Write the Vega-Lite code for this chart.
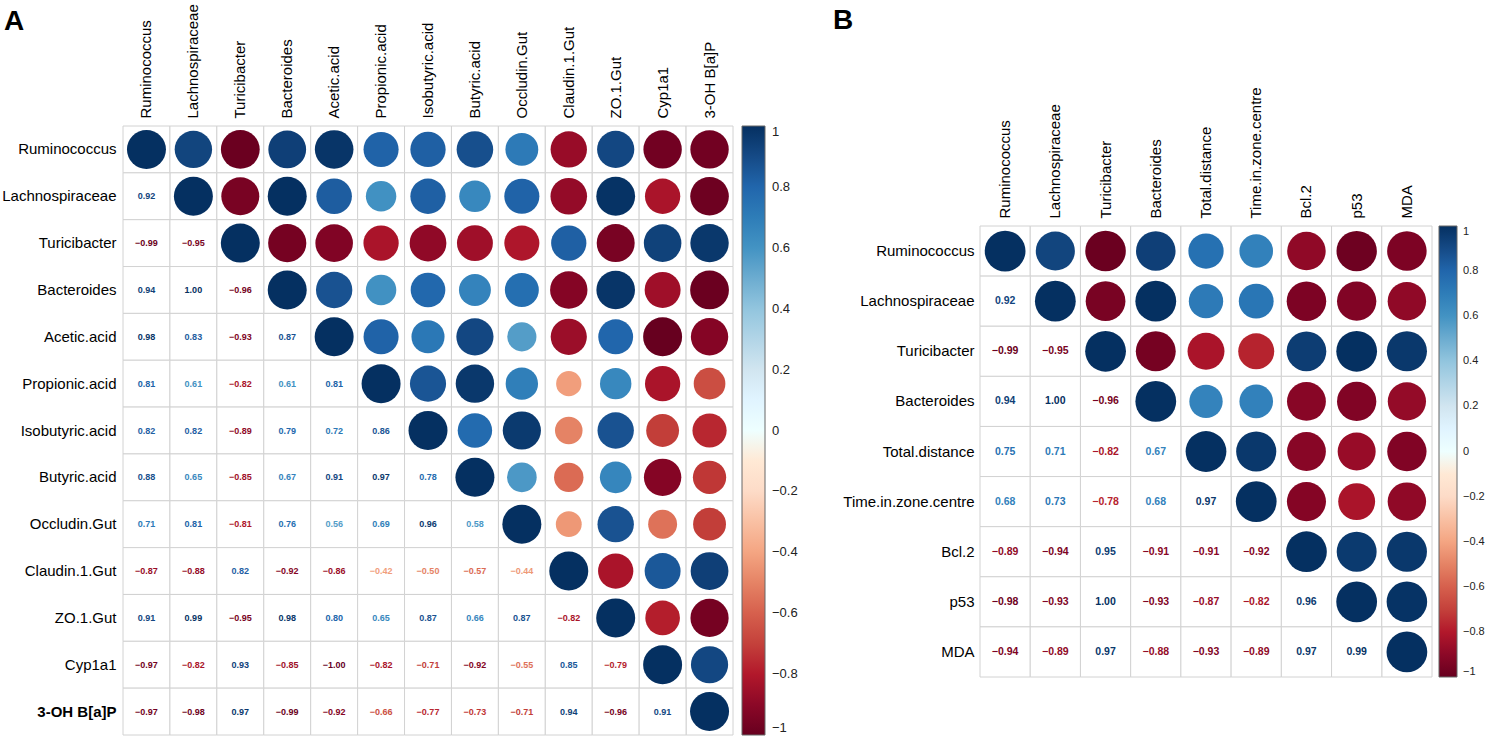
{
  "$schema": "https://vega.github.io/schema/vega-lite/v6.json",
  "padding": {"left": 1, "top": 3, "right": 0, "bottom": 0},
  "background": "white",
  "spacing": 35,
  "datasets": {
    "A_upper": [
      {"row":"Ruminococcus","col":"Ruminococcus","r":1},
      {"row":"Ruminococcus","col":"Lachnospiraceae","r":0.92},
      {"row":"Ruminococcus","col":"Turicibacter","r":-0.99},
      {"row":"Ruminococcus","col":"Bacteroides","r":0.94},
      {"row":"Ruminococcus","col":"Acetic.acid","r":0.98},
      {"row":"Ruminococcus","col":"Propionic.acid","r":0.81},
      {"row":"Ruminococcus","col":"Isobutyric.acid","r":0.82},
      {"row":"Ruminococcus","col":"Butyric.acid","r":0.88},
      {"row":"Ruminococcus","col":"Occludin.Gut","r":0.71},
      {"row":"Ruminococcus","col":"Claudin.1.Gut","r":-0.87},
      {"row":"Ruminococcus","col":"ZO.1.Gut","r":0.91},
      {"row":"Ruminococcus","col":"Cyp1a1","r":-0.97},
      {"row":"Ruminococcus","col":"3-OH B[a]P","r":-0.97},
      {"row":"Lachnospiraceae","col":"Lachnospiraceae","r":1},
      {"row":"Lachnospiraceae","col":"Turicibacter","r":-0.95},
      {"row":"Lachnospiraceae","col":"Bacteroides","r":1.0},
      {"row":"Lachnospiraceae","col":"Acetic.acid","r":0.83},
      {"row":"Lachnospiraceae","col":"Propionic.acid","r":0.61},
      {"row":"Lachnospiraceae","col":"Isobutyric.acid","r":0.82},
      {"row":"Lachnospiraceae","col":"Butyric.acid","r":0.65},
      {"row":"Lachnospiraceae","col":"Occludin.Gut","r":0.81},
      {"row":"Lachnospiraceae","col":"Claudin.1.Gut","r":-0.88},
      {"row":"Lachnospiraceae","col":"ZO.1.Gut","r":0.99},
      {"row":"Lachnospiraceae","col":"Cyp1a1","r":-0.82},
      {"row":"Lachnospiraceae","col":"3-OH B[a]P","r":-0.98},
      {"row":"Turicibacter","col":"Turicibacter","r":1},
      {"row":"Turicibacter","col":"Bacteroides","r":-0.96},
      {"row":"Turicibacter","col":"Acetic.acid","r":-0.93},
      {"row":"Turicibacter","col":"Propionic.acid","r":-0.82},
      {"row":"Turicibacter","col":"Isobutyric.acid","r":-0.89},
      {"row":"Turicibacter","col":"Butyric.acid","r":-0.85},
      {"row":"Turicibacter","col":"Occludin.Gut","r":-0.81},
      {"row":"Turicibacter","col":"Claudin.1.Gut","r":0.82},
      {"row":"Turicibacter","col":"ZO.1.Gut","r":-0.95},
      {"row":"Turicibacter","col":"Cyp1a1","r":0.93},
      {"row":"Turicibacter","col":"3-OH B[a]P","r":0.97},
      {"row":"Bacteroides","col":"Bacteroides","r":1},
      {"row":"Bacteroides","col":"Acetic.acid","r":0.87},
      {"row":"Bacteroides","col":"Propionic.acid","r":0.61},
      {"row":"Bacteroides","col":"Isobutyric.acid","r":0.79},
      {"row":"Bacteroides","col":"Butyric.acid","r":0.67},
      {"row":"Bacteroides","col":"Occludin.Gut","r":0.76},
      {"row":"Bacteroides","col":"Claudin.1.Gut","r":-0.92},
      {"row":"Bacteroides","col":"ZO.1.Gut","r":0.98},
      {"row":"Bacteroides","col":"Cyp1a1","r":-0.85},
      {"row":"Bacteroides","col":"3-OH B[a]P","r":-0.99},
      {"row":"Acetic.acid","col":"Acetic.acid","r":1},
      {"row":"Acetic.acid","col":"Propionic.acid","r":0.81},
      {"row":"Acetic.acid","col":"Isobutyric.acid","r":0.72},
      {"row":"Acetic.acid","col":"Butyric.acid","r":0.91},
      {"row":"Acetic.acid","col":"Occludin.Gut","r":0.56},
      {"row":"Acetic.acid","col":"Claudin.1.Gut","r":-0.86},
      {"row":"Acetic.acid","col":"ZO.1.Gut","r":0.8},
      {"row":"Acetic.acid","col":"Cyp1a1","r":-1.0},
      {"row":"Acetic.acid","col":"3-OH B[a]P","r":-0.92},
      {"row":"Propionic.acid","col":"Propionic.acid","r":1},
      {"row":"Propionic.acid","col":"Isobutyric.acid","r":0.86},
      {"row":"Propionic.acid","col":"Butyric.acid","r":0.97},
      {"row":"Propionic.acid","col":"Occludin.Gut","r":0.69},
      {"row":"Propionic.acid","col":"Claudin.1.Gut","r":-0.42},
      {"row":"Propionic.acid","col":"ZO.1.Gut","r":0.65},
      {"row":"Propionic.acid","col":"Cyp1a1","r":-0.82},
      {"row":"Propionic.acid","col":"3-OH B[a]P","r":-0.66},
      {"row":"Isobutyric.acid","col":"Isobutyric.acid","r":1},
      {"row":"Isobutyric.acid","col":"Butyric.acid","r":0.78},
      {"row":"Isobutyric.acid","col":"Occludin.Gut","r":0.96},
      {"row":"Isobutyric.acid","col":"Claudin.1.Gut","r":-0.5},
      {"row":"Isobutyric.acid","col":"ZO.1.Gut","r":0.87},
      {"row":"Isobutyric.acid","col":"Cyp1a1","r":-0.71},
      {"row":"Isobutyric.acid","col":"3-OH B[a]P","r":-0.77},
      {"row":"Butyric.acid","col":"Butyric.acid","r":1},
      {"row":"Butyric.acid","col":"Occludin.Gut","r":0.58},
      {"row":"Butyric.acid","col":"Claudin.1.Gut","r":-0.57},
      {"row":"Butyric.acid","col":"ZO.1.Gut","r":0.66},
      {"row":"Butyric.acid","col":"Cyp1a1","r":-0.92},
      {"row":"Butyric.acid","col":"3-OH B[a]P","r":-0.73},
      {"row":"Occludin.Gut","col":"Occludin.Gut","r":1},
      {"row":"Occludin.Gut","col":"Claudin.1.Gut","r":-0.44},
      {"row":"Occludin.Gut","col":"ZO.1.Gut","r":0.87},
      {"row":"Occludin.Gut","col":"Cyp1a1","r":-0.55},
      {"row":"Occludin.Gut","col":"3-OH B[a]P","r":-0.71},
      {"row":"Claudin.1.Gut","col":"Claudin.1.Gut","r":1},
      {"row":"Claudin.1.Gut","col":"ZO.1.Gut","r":-0.82},
      {"row":"Claudin.1.Gut","col":"Cyp1a1","r":0.85},
      {"row":"Claudin.1.Gut","col":"3-OH B[a]P","r":0.94},
      {"row":"ZO.1.Gut","col":"ZO.1.Gut","r":1},
      {"row":"ZO.1.Gut","col":"Cyp1a1","r":-0.79},
      {"row":"ZO.1.Gut","col":"3-OH B[a]P","r":-0.96},
      {"row":"Cyp1a1","col":"Cyp1a1","r":1},
      {"row":"Cyp1a1","col":"3-OH B[a]P","r":0.91},
      {"row":"3-OH B[a]P","col":"3-OH B[a]P","r":1}
    ],
    "A_lower": [
      {"row":"Lachnospiraceae","col":"Ruminococcus","r":0.92},
      {"row":"Turicibacter","col":"Ruminococcus","r":-0.99},
      {"row":"Turicibacter","col":"Lachnospiraceae","r":-0.95},
      {"row":"Bacteroides","col":"Ruminococcus","r":0.94},
      {"row":"Bacteroides","col":"Lachnospiraceae","r":1.0},
      {"row":"Bacteroides","col":"Turicibacter","r":-0.96},
      {"row":"Acetic.acid","col":"Ruminococcus","r":0.98},
      {"row":"Acetic.acid","col":"Lachnospiraceae","r":0.83},
      {"row":"Acetic.acid","col":"Turicibacter","r":-0.93},
      {"row":"Acetic.acid","col":"Bacteroides","r":0.87},
      {"row":"Propionic.acid","col":"Ruminococcus","r":0.81},
      {"row":"Propionic.acid","col":"Lachnospiraceae","r":0.61},
      {"row":"Propionic.acid","col":"Turicibacter","r":-0.82},
      {"row":"Propionic.acid","col":"Bacteroides","r":0.61},
      {"row":"Propionic.acid","col":"Acetic.acid","r":0.81},
      {"row":"Isobutyric.acid","col":"Ruminococcus","r":0.82},
      {"row":"Isobutyric.acid","col":"Lachnospiraceae","r":0.82},
      {"row":"Isobutyric.acid","col":"Turicibacter","r":-0.89},
      {"row":"Isobutyric.acid","col":"Bacteroides","r":0.79},
      {"row":"Isobutyric.acid","col":"Acetic.acid","r":0.72},
      {"row":"Isobutyric.acid","col":"Propionic.acid","r":0.86},
      {"row":"Butyric.acid","col":"Ruminococcus","r":0.88},
      {"row":"Butyric.acid","col":"Lachnospiraceae","r":0.65},
      {"row":"Butyric.acid","col":"Turicibacter","r":-0.85},
      {"row":"Butyric.acid","col":"Bacteroides","r":0.67},
      {"row":"Butyric.acid","col":"Acetic.acid","r":0.91},
      {"row":"Butyric.acid","col":"Propionic.acid","r":0.97},
      {"row":"Butyric.acid","col":"Isobutyric.acid","r":0.78},
      {"row":"Occludin.Gut","col":"Ruminococcus","r":0.71},
      {"row":"Occludin.Gut","col":"Lachnospiraceae","r":0.81},
      {"row":"Occludin.Gut","col":"Turicibacter","r":-0.81},
      {"row":"Occludin.Gut","col":"Bacteroides","r":0.76},
      {"row":"Occludin.Gut","col":"Acetic.acid","r":0.56},
      {"row":"Occludin.Gut","col":"Propionic.acid","r":0.69},
      {"row":"Occludin.Gut","col":"Isobutyric.acid","r":0.96},
      {"row":"Occludin.Gut","col":"Butyric.acid","r":0.58},
      {"row":"Claudin.1.Gut","col":"Ruminococcus","r":-0.87},
      {"row":"Claudin.1.Gut","col":"Lachnospiraceae","r":-0.88},
      {"row":"Claudin.1.Gut","col":"Turicibacter","r":0.82},
      {"row":"Claudin.1.Gut","col":"Bacteroides","r":-0.92},
      {"row":"Claudin.1.Gut","col":"Acetic.acid","r":-0.86},
      {"row":"Claudin.1.Gut","col":"Propionic.acid","r":-0.42},
      {"row":"Claudin.1.Gut","col":"Isobutyric.acid","r":-0.5},
      {"row":"Claudin.1.Gut","col":"Butyric.acid","r":-0.57},
      {"row":"Claudin.1.Gut","col":"Occludin.Gut","r":-0.44},
      {"row":"ZO.1.Gut","col":"Ruminococcus","r":0.91},
      {"row":"ZO.1.Gut","col":"Lachnospiraceae","r":0.99},
      {"row":"ZO.1.Gut","col":"Turicibacter","r":-0.95},
      {"row":"ZO.1.Gut","col":"Bacteroides","r":0.98},
      {"row":"ZO.1.Gut","col":"Acetic.acid","r":0.8},
      {"row":"ZO.1.Gut","col":"Propionic.acid","r":0.65},
      {"row":"ZO.1.Gut","col":"Isobutyric.acid","r":0.87},
      {"row":"ZO.1.Gut","col":"Butyric.acid","r":0.66},
      {"row":"ZO.1.Gut","col":"Occludin.Gut","r":0.87},
      {"row":"ZO.1.Gut","col":"Claudin.1.Gut","r":-0.82},
      {"row":"Cyp1a1","col":"Ruminococcus","r":-0.97},
      {"row":"Cyp1a1","col":"Lachnospiraceae","r":-0.82},
      {"row":"Cyp1a1","col":"Turicibacter","r":0.93},
      {"row":"Cyp1a1","col":"Bacteroides","r":-0.85},
      {"row":"Cyp1a1","col":"Acetic.acid","r":-1.0},
      {"row":"Cyp1a1","col":"Propionic.acid","r":-0.82},
      {"row":"Cyp1a1","col":"Isobutyric.acid","r":-0.71},
      {"row":"Cyp1a1","col":"Butyric.acid","r":-0.92},
      {"row":"Cyp1a1","col":"Occludin.Gut","r":-0.55},
      {"row":"Cyp1a1","col":"Claudin.1.Gut","r":0.85},
      {"row":"Cyp1a1","col":"ZO.1.Gut","r":-0.79},
      {"row":"3-OH B[a]P","col":"Ruminococcus","r":-0.97},
      {"row":"3-OH B[a]P","col":"Lachnospiraceae","r":-0.98},
      {"row":"3-OH B[a]P","col":"Turicibacter","r":0.97},
      {"row":"3-OH B[a]P","col":"Bacteroides","r":-0.99},
      {"row":"3-OH B[a]P","col":"Acetic.acid","r":-0.92},
      {"row":"3-OH B[a]P","col":"Propionic.acid","r":-0.66},
      {"row":"3-OH B[a]P","col":"Isobutyric.acid","r":-0.77},
      {"row":"3-OH B[a]P","col":"Butyric.acid","r":-0.73},
      {"row":"3-OH B[a]P","col":"Occludin.Gut","r":-0.71},
      {"row":"3-OH B[a]P","col":"Claudin.1.Gut","r":0.94},
      {"row":"3-OH B[a]P","col":"ZO.1.Gut","r":-0.96},
      {"row":"3-OH B[a]P","col":"Cyp1a1","r":0.91}
    ],
    "B_upper": [
      {"row":"Ruminococcus","col":"Ruminococcus","r":1},
      {"row":"Ruminococcus","col":"Lachnospiraceae","r":0.92},
      {"row":"Ruminococcus","col":"Turicibacter","r":-0.99},
      {"row":"Ruminococcus","col":"Bacteroides","r":0.94},
      {"row":"Ruminococcus","col":"Total.distance","r":0.75},
      {"row":"Ruminococcus","col":"Time.in.zone.centre","r":0.68},
      {"row":"Ruminococcus","col":"Bcl.2","r":-0.89},
      {"row":"Ruminococcus","col":"p53","r":-0.98},
      {"row":"Ruminococcus","col":"MDA","r":-0.94},
      {"row":"Lachnospiraceae","col":"Lachnospiraceae","r":1},
      {"row":"Lachnospiraceae","col":"Turicibacter","r":-0.95},
      {"row":"Lachnospiraceae","col":"Bacteroides","r":1.0},
      {"row":"Lachnospiraceae","col":"Total.distance","r":0.71},
      {"row":"Lachnospiraceae","col":"Time.in.zone.centre","r":0.73},
      {"row":"Lachnospiraceae","col":"Bcl.2","r":-0.94},
      {"row":"Lachnospiraceae","col":"p53","r":-0.93},
      {"row":"Lachnospiraceae","col":"MDA","r":-0.89},
      {"row":"Turicibacter","col":"Turicibacter","r":1},
      {"row":"Turicibacter","col":"Bacteroides","r":-0.96},
      {"row":"Turicibacter","col":"Total.distance","r":-0.82},
      {"row":"Turicibacter","col":"Time.in.zone.centre","r":-0.78},
      {"row":"Turicibacter","col":"Bcl.2","r":0.95},
      {"row":"Turicibacter","col":"p53","r":1.0},
      {"row":"Turicibacter","col":"MDA","r":0.97},
      {"row":"Bacteroides","col":"Bacteroides","r":1},
      {"row":"Bacteroides","col":"Total.distance","r":0.67},
      {"row":"Bacteroides","col":"Time.in.zone.centre","r":0.68},
      {"row":"Bacteroides","col":"Bcl.2","r":-0.91},
      {"row":"Bacteroides","col":"p53","r":-0.93},
      {"row":"Bacteroides","col":"MDA","r":-0.88},
      {"row":"Total.distance","col":"Total.distance","r":1},
      {"row":"Total.distance","col":"Time.in.zone.centre","r":0.97},
      {"row":"Total.distance","col":"Bcl.2","r":-0.91},
      {"row":"Total.distance","col":"p53","r":-0.87},
      {"row":"Total.distance","col":"MDA","r":-0.93},
      {"row":"Time.in.zone.centre","col":"Time.in.zone.centre","r":1},
      {"row":"Time.in.zone.centre","col":"Bcl.2","r":-0.92},
      {"row":"Time.in.zone.centre","col":"p53","r":-0.82},
      {"row":"Time.in.zone.centre","col":"MDA","r":-0.89},
      {"row":"Bcl.2","col":"Bcl.2","r":1},
      {"row":"Bcl.2","col":"p53","r":0.96},
      {"row":"Bcl.2","col":"MDA","r":0.97},
      {"row":"p53","col":"p53","r":1},
      {"row":"p53","col":"MDA","r":0.99},
      {"row":"MDA","col":"MDA","r":1}
    ],
    "B_lower": [
      {"row":"Lachnospiraceae","col":"Ruminococcus","r":0.92},
      {"row":"Turicibacter","col":"Ruminococcus","r":-0.99},
      {"row":"Turicibacter","col":"Lachnospiraceae","r":-0.95},
      {"row":"Bacteroides","col":"Ruminococcus","r":0.94},
      {"row":"Bacteroides","col":"Lachnospiraceae","r":1.0},
      {"row":"Bacteroides","col":"Turicibacter","r":-0.96},
      {"row":"Total.distance","col":"Ruminococcus","r":0.75},
      {"row":"Total.distance","col":"Lachnospiraceae","r":0.71},
      {"row":"Total.distance","col":"Turicibacter","r":-0.82},
      {"row":"Total.distance","col":"Bacteroides","r":0.67},
      {"row":"Time.in.zone.centre","col":"Ruminococcus","r":0.68},
      {"row":"Time.in.zone.centre","col":"Lachnospiraceae","r":0.73},
      {"row":"Time.in.zone.centre","col":"Turicibacter","r":-0.78},
      {"row":"Time.in.zone.centre","col":"Bacteroides","r":0.68},
      {"row":"Time.in.zone.centre","col":"Total.distance","r":0.97},
      {"row":"Bcl.2","col":"Ruminococcus","r":-0.89},
      {"row":"Bcl.2","col":"Lachnospiraceae","r":-0.94},
      {"row":"Bcl.2","col":"Turicibacter","r":0.95},
      {"row":"Bcl.2","col":"Bacteroides","r":-0.91},
      {"row":"Bcl.2","col":"Total.distance","r":-0.91},
      {"row":"Bcl.2","col":"Time.in.zone.centre","r":-0.92},
      {"row":"p53","col":"Ruminococcus","r":-0.98},
      {"row":"p53","col":"Lachnospiraceae","r":-0.93},
      {"row":"p53","col":"Turicibacter","r":1.0},
      {"row":"p53","col":"Bacteroides","r":-0.93},
      {"row":"p53","col":"Total.distance","r":-0.87},
      {"row":"p53","col":"Time.in.zone.centre","r":-0.82},
      {"row":"p53","col":"Bcl.2","r":0.96},
      {"row":"MDA","col":"Ruminococcus","r":-0.94},
      {"row":"MDA","col":"Lachnospiraceae","r":-0.89},
      {"row":"MDA","col":"Turicibacter","r":0.97},
      {"row":"MDA","col":"Bacteroides","r":-0.88},
      {"row":"MDA","col":"Total.distance","r":-0.93},
      {"row":"MDA","col":"Time.in.zone.centre","r":-0.89},
      {"row":"MDA","col":"Bcl.2","r":0.97},
      {"row":"MDA","col":"p53","r":0.99}
    ]
  },
  "hconcat": [
    {
      "width": 610,
      "height": 609,
      "title": {"text": "A", "anchor": "start", "frame": "group", "dx": -119, "offset": -32, "fontSize": 28, "fontWeight": "bold", "font": "Liberation Sans", "color": "#000"},
      "encoding": {
        "x": {"field": "col", "type": "nominal",
          "scale": {"type": "band", "paddingInner": 0, "paddingOuter": 0, "domain": ["Ruminococcus","Lachnospiraceae","Turicibacter","Bacteroides","Acetic.acid","Propionic.acid","Isobutyric.acid","Butyric.acid","Occludin.Gut","Claudin.1.Gut","ZO.1.Gut","Cyp1a1","3-OH B[a]P"]},
          "axis": {"orient": "top", "labelAngle": -90, "title": null, "domain": false, "ticks": false, "grid": false, "labelPadding": 8, "labelFontSize": 15, "labelFont": "Liberation Sans", "labelColor": "#000"}},
        "y": {"field": "row", "type": "nominal",
          "scale": {"type": "band", "paddingInner": 0, "paddingOuter": 0, "domain": ["Ruminococcus","Lachnospiraceae","Turicibacter","Bacteroides","Acetic.acid","Propionic.acid","Isobutyric.acid","Butyric.acid","Occludin.Gut","Claudin.1.Gut","ZO.1.Gut","Cyp1a1","3-OH B[a]P"]},
          "axis": {"title": null, "domain": false, "ticks": false, "grid": false, "labelPadding": 7, "labelFontSize": 15, "labelFont": "Liberation Sans", "labelColor": "#000",
            "labelFontWeight": {"condition": {"test": "datum.value === '3-OH B[a]P'", "value": "bold"}, "value": "normal"}}}
      },
      "layer": [
        {"data": {"name": "A_upper"}, "mark": {"type": "rect", "fill": "white", "stroke": "#d2d2d2", "strokeWidth": 1}},
        {"data": {"name": "A_lower"}, "mark": {"type": "rect", "fill": "white", "stroke": "#d2d2d2", "strokeWidth": 1}},
        {"data": {"name": "A_upper"}, "mark": {"type": "circle", "opacity": 1},
          "encoding": {
            "size": {"field": "r", "type": "quantitative", "scale": {"type": "linear", "domain": [-1, 0, 1], "range": [1520, 0, 1520]}, "legend": null},
            "color": {"field": "r", "type": "quantitative",
              "scale": {"domain": [-1,-0.8,-0.6,-0.4,-0.2,0,0.2,0.4,0.6,0.8,1], "range": ["#67001F","#B2182B","#D6604D","#F4A582","#FDDBC7","#FFFFFF","#D1E5F0","#92C5DE","#4393C3","#2166AC","#053061"]},
              "legend": {"title": null, "orient": "right", "offset": 9, "padding": 0, "gradientLength": 609, "gradientThickness": 23, "values": [1,0.8,0.6,0.4,0.2,0,-0.2,-0.4,-0.6,-0.8,-1], "format": ".1~f", "labelFontSize": 13, "labelFont": "Liberation Sans", "labelOffset": 7, "labelOverlap": false, "labelColor": "#222", "gradientStrokeColor": "#666", "gradientStrokeWidth": 1}}
          }},
        {"data": {"name": "A_lower"}, "mark": {"type": "text", "fontSize": 9, "fontWeight": "bold", "font": "Liberation Sans"},
          "encoding": {
            "text": {"field": "r", "type": "quantitative", "format": ".2f"},
            "color": {"field": "r", "type": "quantitative",
              "scale": {"domain": [-1,-0.8,-0.6,-0.4,-0.2,0,0.2,0.4,0.6,0.8,1], "range": ["#67001F","#B2182B","#D6604D","#F4A582","#FDDBC7","#FFFFFF","#D1E5F0","#92C5DE","#4393C3","#2166AC","#053061"]},
              "legend": {"title": null, "orient": "right", "offset": 9, "padding": 0, "gradientLength": 609, "gradientThickness": 23, "values": [1,0.8,0.6,0.4,0.2,0,-0.2,-0.4,-0.6,-0.8,-1], "format": ".1~f", "labelFontSize": 13, "labelFont": "Liberation Sans", "labelOffset": 7, "labelOverlap": false, "labelColor": "#222", "gradientStrokeColor": "#666", "gradientStrokeWidth": 1}}
          }}
      ]
    },
    {
      "width": 452,
      "height": 551,
      "title": {"text": "B", "anchor": "start", "frame": "group", "dx": -147, "offset": 52, "fontSize": 28, "fontWeight": "bold", "font": "Liberation Sans", "color": "#000"},
      "encoding": {
        "x": {"field": "col", "type": "nominal",
          "scale": {"type": "band", "paddingInner": 0, "paddingOuter": 0, "domain": ["Ruminococcus","Lachnospiraceae","Turicibacter","Bacteroides","Total.distance","Time.in.zone.centre","Bcl.2","p53","MDA"]},
          "axis": {"orient": "top", "offset": -100, "labelAngle": -90, "title": null, "domain": false, "ticks": false, "grid": false, "labelPadding": 8, "labelFontSize": 15, "labelFont": "Liberation Sans", "labelColor": "#000"}},
        "y": {"field": "row", "type": "nominal",
          "scale": {"type": "band", "paddingInner": 0, "paddingOuter": 0, "range": [100, 551], "domain": ["Ruminococcus","Lachnospiraceae","Turicibacter","Bacteroides","Total.distance","Time.in.zone.centre","Bcl.2","p53","MDA"]},
          "axis": {"title": null, "domain": false, "ticks": false, "grid": false, "labelPadding": 6, "labelFontSize": 15, "labelFont": "Liberation Sans", "labelColor": "#000"}}
      },
      "layer": [
        {"data": {"name": "B_upper"}, "mark": {"type": "rect", "fill": "white", "stroke": "#d2d2d2", "strokeWidth": 1}},
        {"data": {"name": "B_lower"}, "mark": {"type": "rect", "fill": "white", "stroke": "#d2d2d2", "strokeWidth": 1}},
        {"data": {"name": "B_upper"}, "mark": {"type": "circle", "opacity": 1},
          "encoding": {
            "size": {"field": "r", "type": "quantitative", "scale": {"type": "linear", "domain": [-1, 0, 1], "range": [1662, 0, 1662]}, "legend": null},
            "color": {"field": "r", "type": "quantitative",
              "scale": {"domain": [-1,-0.8,-0.6,-0.4,-0.2,0,0.2,0.4,0.6,0.8,1], "range": ["#67001F","#B2182B","#D6604D","#F4A582","#FDDBC7","#FFFFFF","#D1E5F0","#92C5DE","#4393C3","#2166AC","#053061"]},
              "legend": {"title": null, "orient": "none", "legendX": 459, "legendY": 100, "padding": 0, "gradientLength": 451, "gradientThickness": 18, "values": [1,0.8,0.6,0.4,0.2,0,-0.2,-0.4,-0.6,-0.8,-1], "format": ".1~f", "labelFontSize": 11, "labelFont": "Liberation Sans", "labelOffset": 6, "labelOverlap": false, "labelColor": "#222", "gradientStrokeColor": "#666", "gradientStrokeWidth": 1, "direction": "vertical"}}
          }},
        {"data": {"name": "B_lower"}, "mark": {"type": "text", "fontSize": 10.5, "fontWeight": "bold", "font": "Liberation Sans"},
          "encoding": {
            "text": {"field": "r", "type": "quantitative", "format": ".2f"},
            "color": {"field": "r", "type": "quantitative",
              "scale": {"domain": [-1,-0.8,-0.6,-0.4,-0.2,0,0.2,0.4,0.6,0.8,1], "range": ["#67001F","#B2182B","#D6604D","#F4A582","#FDDBC7","#FFFFFF","#D1E5F0","#92C5DE","#4393C3","#2166AC","#053061"]},
              "legend": {"title": null, "orient": "none", "legendX": 459, "legendY": 100, "padding": 0, "gradientLength": 451, "gradientThickness": 18, "values": [1,0.8,0.6,0.4,0.2,0,-0.2,-0.4,-0.6,-0.8,-1], "format": ".1~f", "labelFontSize": 11, "labelFont": "Liberation Sans", "labelOffset": 6, "labelOverlap": false, "labelColor": "#222", "gradientStrokeColor": "#666", "gradientStrokeWidth": 1, "direction": "vertical"}}
          }}
      ]
    }
  ],
  "resolve": {"scale": {"color": "independent", "size": "independent", "x": "independent", "y": "independent"}, "legend": {"color": "independent"}},
  "config": {"view": {"stroke": null}, "font": "Liberation Sans"}
}
